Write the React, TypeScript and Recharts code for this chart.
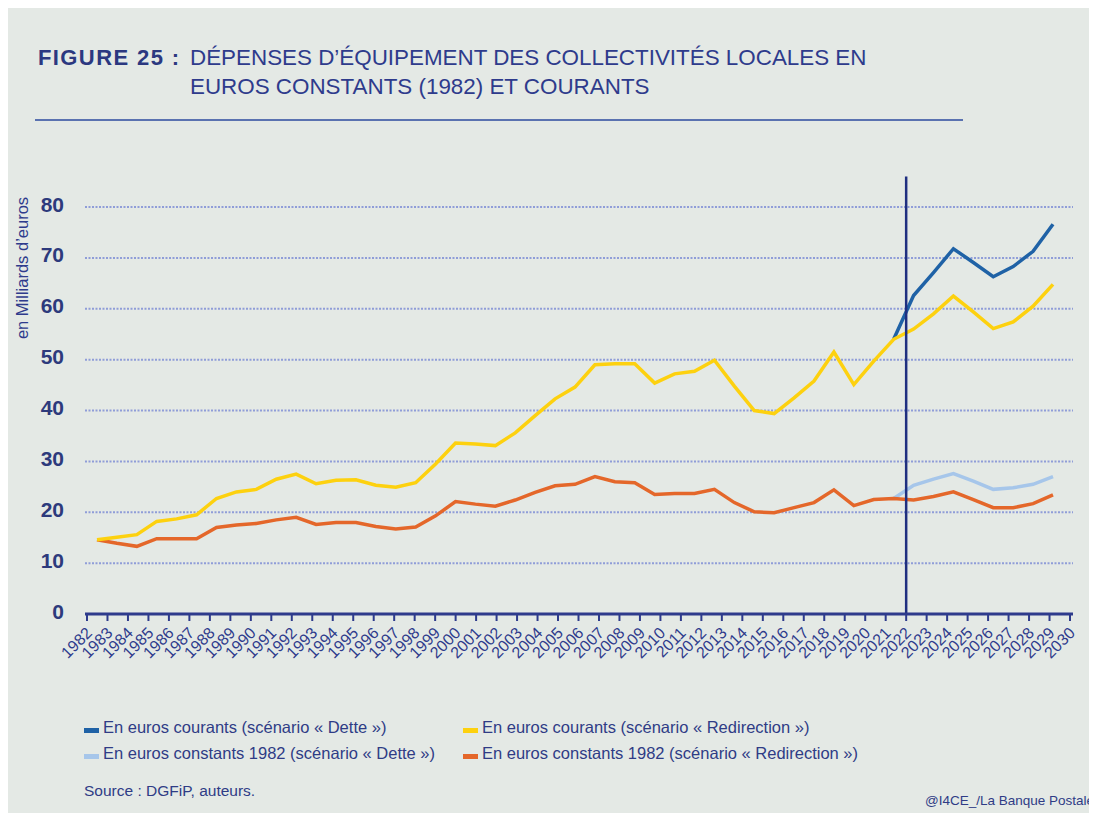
import React from 'react';
import { LineChart, Line, XAxis, YAxis, CartesianGrid, ReferenceLine } from 'recharts';

const years = [
  1982, 1983, 1984, 1985, 1986, 1987, 1988, 1989, 1990, 1991,
  1992, 1993, 1994, 1995, 1996, 1997, 1998, 1999, 2000, 2001,
  2002, 2003, 2004, 2005, 2006, 2007, 2008, 2009, 2010, 2011,
  2012, 2013, 2014, 2015, 2016, 2017, 2018, 2019, 2020, 2021,
  2022, 2023, 2024, 2025, 2026, 2027, 2028, 2029, 2030,
];

// En euros courants (scénario « Redirection »)
const courantsRedirection = [
  14.6, 15.1, 15.6, 18.2, 18.7, 19.5, 22.7, 24.0, 24.5, 26.5,
  27.5, 25.6, 26.3, 26.4, 25.3, 24.9, 25.8, 29.5, 33.6, 33.4,
  33.1, 35.6, 39.0, 42.3, 44.6, 49.0, 49.2, 49.2, 45.4, 47.2,
  47.7, 49.9, 44.8, 40.0, 39.4, 42.5, 45.8, 51.5, 45.1, 49.7,
  54.0, 56.0, 59.0, 62.5, 59.4, 56.1, 57.4, 60.5, 64.8,
];

// En euros constants 1982 (scénario « Redirection »)
const constantsRedirection = [
  14.6, 13.9, 13.3, 14.8, 14.8, 14.8, 17.0, 17.5, 17.8, 18.5,
  19.0, 17.6, 18.0, 18.0, 17.2, 16.7, 17.1, 19.3, 22.1, 21.6,
  21.2, 22.4, 23.9, 25.2, 25.5, 27.0, 26.0, 25.8, 23.5, 23.7,
  23.7, 24.5, 21.9, 20.1, 19.9, 20.9, 21.9, 24.4, 21.3, 22.5,
  22.7, 22.4, 23.1, 24.0, 22.5, 20.9, 20.9, 21.7, 23.4,
];

const projectionYears = [2022, 2023, 2024, 2025, 2026, 2027, 2028, 2029, 2030];
// En euros courants (scénario « Dette »)
const courantsDette = [54.0, 62.6, 67.1, 71.8, 69.1, 66.3, 68.3, 71.3, 76.6];
// En euros constants 1982 (scénario « Dette »)
const constantsDette = [22.7, 25.3, 26.5, 27.6, 26.1, 24.5, 24.8, 25.5, 27.0];

const yTicks = [0, 10, 20, 30, 40, 50, 60, 70, 80];
const scenarioStartYear = 2022;

const data = years.map((year, i) => {
  const j = projectionYears.indexOf(year);
  return {
    year,
    courantsRedirection: courantsRedirection[i],
    constantsRedirection: constantsRedirection[i],
    courantsDette: j >= 0 ? courantsDette[j] : null,
    constantsDette: j >= 0 ? constantsDette[j] : null,
  };
});

const FONT = '"Liberation Sans", Arial, Helvetica, sans-serif';
const NAVY = '#2e3b8c';
const TEXT = '#2f3c86';
const C_BLUE = '#1f62a6';
const C_YELLOW = '#fdd10f';
const C_LIGHT = '#a6c6ea';
const C_ORANGE = '#e4672a';
const LINE_W = 3.5;

const legendItems = [
  { label: 'En euros courants (scénario « Dette »)', color: C_BLUE, x: 76, y: 725 },
  { label: 'En euros courants (scénario « Redirection »)', color: C_YELLOW, x: 455, y: 725 },
  { label: 'En euros constants 1982 (scénario « Dette »)', color: C_LIGHT, x: 76, y: 751 },
  { label: 'En euros constants 1982 (scénario « Redirection »)', color: C_ORANGE, x: 455, y: 751 },
];

const XTick = (props: any) => {
  const { x, y, payload } = props;
  const ax = x + 6;
  const ay = y + 13;
  return (
    <text
      x={ax}
      y={ay}
      transform={`rotate(-45 ${ax} ${ay})`}
      textAnchor="end"
      fontSize={16}
      fontFamily={FONT}
      fill={NAVY}
    >
      {payload.value}
    </text>
  );
};

const YTick = (props: any) => {
  const { x, y, payload } = props;
  return (
    <text
      x={x}
      y={y}
      dy={4.5}
      textAnchor="end"
      fontSize={21}
      fontWeight="bold"
      fontFamily={FONT}
      fill="#2d3a7c"
    >
      {payload.value}
    </text>
  );
};

export default function App() {
  return (
    <div
      style={{
        position: 'relative',
        width: 1089,
        height: 805,
        background: '#e4e9e5',
        overflow: 'hidden',
        fontFamily: FONT,
      }}
    >
      <style>{'html,body{overflow:hidden}'}</style>
      <svg
        width={1089}
        height={805}
        style={{ position: 'absolute', left: 0, top: 0 }}
        fontFamily={FONT}
      >
        <text x={30} y={57} fontSize={22} fontWeight="bold" fill="#2b3880" letterSpacing={1.4}>
          FIGURE 25 :
        </text>
        <text x={182} y={57} fontSize={22.4} fill={NAVY}>
          DÉPENSES D’ÉQUIPEMENT DES COLLECTIVITÉS LOCALES EN
        </text>
        <text x={182} y={86} fontSize={22.4} fill={NAVY}>
          EUROS CONSTANTS (1982) ET COURANTS
        </text>
        <line x1={27} x2={955} y1={112} y2={112} stroke="#5a72b0" strokeWidth={2} />
        <text
          x={15}
          y={260}
          transform="rotate(-90 15 260)"
          textAnchor="middle"
          dy={5}
          fontSize={16.5}
          fill={NAVY}
        >
          en Milliards d’euros
        </text>
        {legendItems.map((it) => (
          <g key={it.label}>
            <rect x={it.x} y={it.y - 5} width={15} height={5} fill={it.color} />
            <text x={it.x + 19} y={it.y} fontSize={16.5} fill={TEXT}>
              {it.label}
            </text>
          </g>
        ))}
        <text x={76} y={788} fontSize={15.5} fill={TEXT}>
          Source : DGFiP, auteurs.
        </text>
        <text x={917} y={797} fontSize={13.5} fill={TEXT}>
          @I4CE_/La Banque Postale
        </text>
      </svg>
      <div style={{ position: 'absolute', left: 0, top: 0 }}>
        <LineChart
          width={1089}
          height={700}
          data={data}
          margin={{ top: 168.5, right: 24, bottom: 34, left: 17 }}
        >
          <CartesianGrid
            vertical={false}
            horizontalValues={yTicks}
            stroke="#8f9dd8"
            strokeWidth={2}
            strokeDasharray="2 1.5"
          />
          <XAxis
            xAxisId="data"
            dataKey="year"
            type="number"
            domain={[1982, 2030]}
            padding={{ left: 12, right: 20 }}
            height={0}
            hide
          />
          <XAxis
            xAxisId="ticks"
            dataKey="year"
            type="number"
            domain={[1982, 2030]}
            ticks={years}
            interval={0}
            padding={{ left: 2, right: 3 }}
            height={60}
            axisLine={{ stroke: NAVY, strokeWidth: 3 }}
            tickLine={{ stroke: NAVY, strokeWidth: 2 }}
            tickSize={7}
            tickMargin={0}
            tick={<XTick />}
          />
          <YAxis
            type="number"
            domain={[0, 86]}
            ticks={yTicks}
            interval={0}
            width={60}
            axisLine={false}
            tickLine={false}
            tickSize={0}
            tickMargin={21}
            tick={<YTick />}
          />
          <Line
            xAxisId="data"
            dataKey="constantsDette"
            stroke={C_LIGHT}
            strokeWidth={LINE_W}
            dot={false}
            isAnimationActive={false}
            connectNulls={false}
          />
          <Line
            xAxisId="data"
            dataKey="constantsRedirection"
            stroke={C_ORANGE}
            strokeWidth={LINE_W}
            dot={false}
            isAnimationActive={false}
          />
          <Line
            xAxisId="data"
            dataKey="courantsDette"
            stroke={C_BLUE}
            strokeWidth={LINE_W}
            dot={false}
            isAnimationActive={false}
            connectNulls={false}
          />
          <Line
            xAxisId="data"
            dataKey="courantsRedirection"
            stroke={C_YELLOW}
            strokeWidth={LINE_W}
            dot={false}
            isAnimationActive={false}
          />
          <ReferenceLine
            xAxisId="ticks"
            x={scenarioStartYear}
            stroke="#1f2f80"
            strokeWidth={2.5}
          />
        </LineChart>
      </div>
    </div>
  );
}
